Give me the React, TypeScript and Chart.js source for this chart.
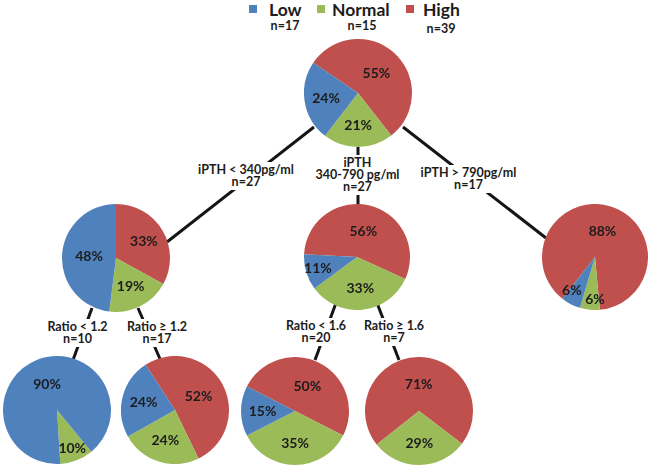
import React, { useEffect, useRef } from 'react';
import { Chart, registerables } from 'chart.js';

Chart.register(...registerables);

// Slice order inside each pie (clockwise)
const categories = ['High', 'Normal', 'Low'];
const categoryColors = ['#C0504D', '#9BBB59', '#4F81BD'];

// Legend
const legendLabels = ['Low', 'Normal', 'High'];
const legendColors = ['#4F81BD', '#9BBB59', '#C0504D'];
const legendCounts = ['n=17', 'n=15', 'n=39'];

// Percentages per node, ordered [High, Normal, Low]
const allPatients = [55, 21, 24];
const iPTHBelow340 = [33, 19, 48];
const iPTH340to790 = [56, 33, 11];
const iPTHAbove790 = [88, 6, 6];
const ratioBelow12 = [0, 10, 90];
const ratioAtLeast12 = [52, 24, 24];
const ratioBelow16 = [50, 35, 15];
const ratioAtLeast16 = [71, 29, 0];

// Branch labels
const branchLabels = [
  'iPTH < 340pg/ml\nn=27',
  'iPTH\n340-790 pg/ml\nn=27',
  'iPTH > 790pg/ml\nn=17',
  'Ratio < 1.2\nn=10',
  'Ratio \u2265 1.2\nn=17',
  'Ratio < 1.6\nn=20',
  'Ratio \u2265 1.6\nn=7',
];

// ---- layout (positions / styles only) ----
const W = 651;
const H = 469;
const pieNodes = [
  { values: allPatients, cx: 358, cy: 93, r: 54, rotation: 304 },
  { values: iPTHBelow340, cx: 116, cy: 258, r: 54, rotation: 0 },
  { values: iPTH340to790, cx: 357, cy: 257, r: 53, rotation: 273 },
  { values: iPTHAbove790, cx: 595, cy: 257, r: 53, rotation: 218, nudge: [[0, 0], [4, 1.5], [-4.5, -2.5]] },
  { values: ratioBelow12, cx: 57, cy: 410, r: 54, rotation: 140.5 },
  { values: ratioAtLeast12, cx: 175, cy: 410, r: 54, rotation: 327 },
  { values: ratioBelow16, cx: 295, cy: 411, r: 54, rotation: 297 },
  { values: ratioAtLeast16, cx: 419, cy: 411, r: 54, rotation: 231.6 },
];
const connectors = [
  [314, 127, 167, 242],
  [358, 147, 358, 204],
  [403, 127, 546, 238],
  [92, 308, 73, 360],
  [138, 308, 160, 359],
  [336, 303, 315, 360],
  [377, 303, 399, 360],
];
const branchLabelPos = [
  [246, 175.5],
  [357.5, 174.5],
  [468.5, 178.5],
  [77.5, 332.5],
  [157, 332.5],
  [316, 332],
  [394, 332],
];
const legendPos = [
  { sq: 249, txt: 269, n: 285, nTop: 20 },
  { sq: 317, txt: 332, n: 362, nTop: 20 },
  { sq: 406, txt: 423, n: 441, nTop: 22.5 },
];

const pctLabelPlugin = {
  id: 'pctLabels',
  afterDatasetsDraw(chart: any, _args: any, opts: any) {
    const ctx = chart.ctx;
    const meta = chart.getDatasetMeta(0);
    const values = chart.data.datasets[0].data as number[];
    const nudge = (opts && opts.nudge) || [];
    ctx.save();
    ctx.font = 'bold 14px Lato';
    ctx.fillStyle = '#1c1c1c';
    ctx.textAlign = 'center';
    ctx.textBaseline = 'middle';
    meta.data.forEach((arc: any, i: number) => {
      const v = values[i];
      if (!v) return;
      const p = arc.getProps(['x', 'y', 'startAngle', 'endAngle', 'outerRadius'], true);
      const mid = (p.startAngle + p.endAngle) / 2;
      const f = v < 12 ? 0.77 : v < 40 ? 0.6 : 0.5;
      const n = nudge[i] || [0, 0];
      ctx.fillText(
        v + '%',
        p.x + Math.cos(mid) * p.outerRadius * f + n[0],
        p.y + Math.sin(mid) * p.outerRadius * f + n[1]
      );
    });
    ctx.restore();
  },
};

function PieNode({ values, cx, cy, r, rotation, nudge }: any) {
  const ref = useRef<HTMLCanvasElement | null>(null);
  useEffect(() => {
    if (!ref.current) return;
    const chart = new Chart(ref.current, {
      type: 'pie',
      data: {
        labels: categories,
        datasets: [
          {
            data: values,
            backgroundColor: categoryColors,
            borderWidth: 0,
          },
        ],
      },
      options: {
        responsive: false,
        maintainAspectRatio: false,
        animation: false,
        rotation,
        devicePixelRatio: 1,
        layout: { padding: 0 },
        plugins: {
          legend: { display: false },
          tooltip: { enabled: false },
          pctLabels: { nudge: nudge || [] },
        } as any,
      },
      plugins: [pctLabelPlugin],
    });
    return () => chart.destroy();
  }, [values, rotation, nudge]);
  const size = r * 2;
  return (
    <canvas
      ref={ref}
      width={size}
      height={size}
      style={{ position: 'absolute', left: cx - r, top: cy - r, width: size, height: size }}
    />
  );
}

export default function App() {
  const font = 'Lato, "Open Sans", sans-serif';
  return (
    <div
      style={{
        position: 'absolute',
        left: 0,
        top: 0,
        width: W,
        height: H,
        background: '#ffffff',
        overflow: 'hidden',
        fontFamily: font,
        color: '#1c1c1c',
      }}
    >
      <svg width={W} height={H} style={{ position: 'absolute', left: 0, top: 0 }}>
        {connectors.map((c, i) => (
          <line key={i} x1={c[0]} y1={c[1]} x2={c[2]} y2={c[3]} stroke="#151515" strokeWidth={3} />
        ))}
      </svg>
      {branchLabels.map((t, i) => (
        <div
          key={i}
          style={{
            position: 'absolute',
            left: branchLabelPos[i][0],
            top: branchLabelPos[i][1],
            transform: 'translate(-50%, -50%)',
            background: '#ffffff',
            padding: '2px 2px',
            whiteSpace: 'pre',
            textAlign: 'center',
            fontWeight: 700,
            fontSize: 12.5,
            lineHeight: '12px',
          }}
        >
          {t}
        </div>
      ))}
      {pieNodes.map((p, i) => (
        <PieNode key={i} {...p} />
      ))}
      {legendLabels.map((l, i) => (
        <React.Fragment key={l}>
          <div
            style={{
              position: 'absolute',
              left: legendPos[i].sq,
              top: 5,
              width: 8,
              height: 8,
              background: legendColors[i],
            }}
          />
          <div
            style={{
              position: 'absolute',
              left: legendPos[i].txt,
              top: 1,
              fontSize: 17.5,
              fontWeight: 700,
              lineHeight: '17px',
              whiteSpace: 'pre',
            }}
          >
            {l}
          </div>
          <div
            style={{
              position: 'absolute',
              left: legendPos[i].n,
              top: legendPos[i].nTop,
              transform: 'translateX(-50%)',
              fontSize: 12.5,
              fontWeight: 700,
              lineHeight: '12px',
              whiteSpace: 'pre',
            }}
          >
            {legendCounts[i]}
          </div>
        </React.Fragment>
      ))}
    </div>
  );
}
